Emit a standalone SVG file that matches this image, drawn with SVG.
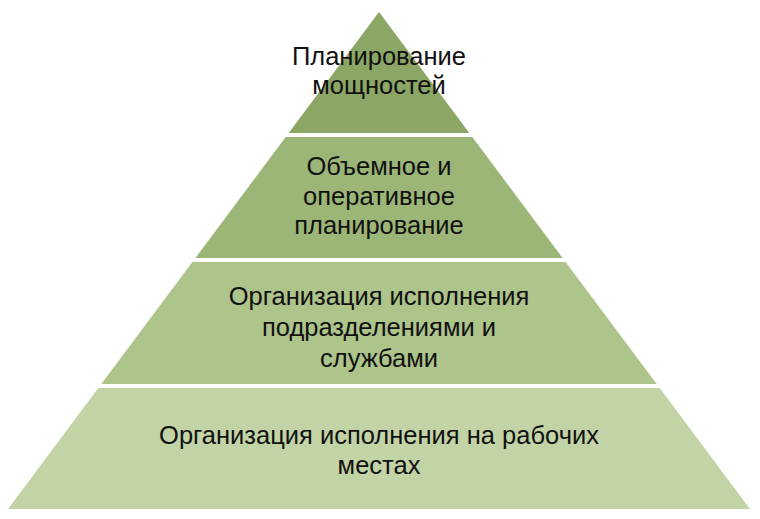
<svg xmlns="http://www.w3.org/2000/svg" width="760" height="519" viewBox="0 0 760 519">
<style>
.lbl{font-family:"Liberation Sans",Arial,sans-serif;font-size:25.5px;fill:#111;text-anchor:middle}
</style>
<rect width="760" height="519" fill="#fff"/>
<g id="level1">
<polygon points="379,12 469.3,133 288.7,133" fill="#8ca666"/>
<text class="lbl" x="379" y="65">Планирование</text>
<text class="lbl" x="379" y="94">мощностей</text>
</g>
<g id="level2">
<polygon points="285.7,137 472.3,137 562.6,258 195.4,258" fill="#9cb678"/>
<text class="lbl" x="379" y="175">Объемное и</text>
<text class="lbl" x="379" y="205">оперативное</text>
<text class="lbl" x="379" y="234">планирование</text>
</g>
<g id="level3">
<polygon points="192.4,262 565.6,262 656.7,384 101.3,384" fill="#adc48b"/>
<text class="lbl" x="379" y="305">Организация исполнения</text>
<text class="lbl" x="379" y="336">подразделениями и</text>
<text class="lbl" x="379" y="367">службами</text>
</g>
<g id="level4">
<polygon points="98.3,388 659.7,388 750,509 8,509" fill="#c2d4a6"/>
<text class="lbl" x="379" y="444">Организация исполнения на рабочих</text>
<text class="lbl" x="379" y="474">местах</text>
</g>
</svg>
